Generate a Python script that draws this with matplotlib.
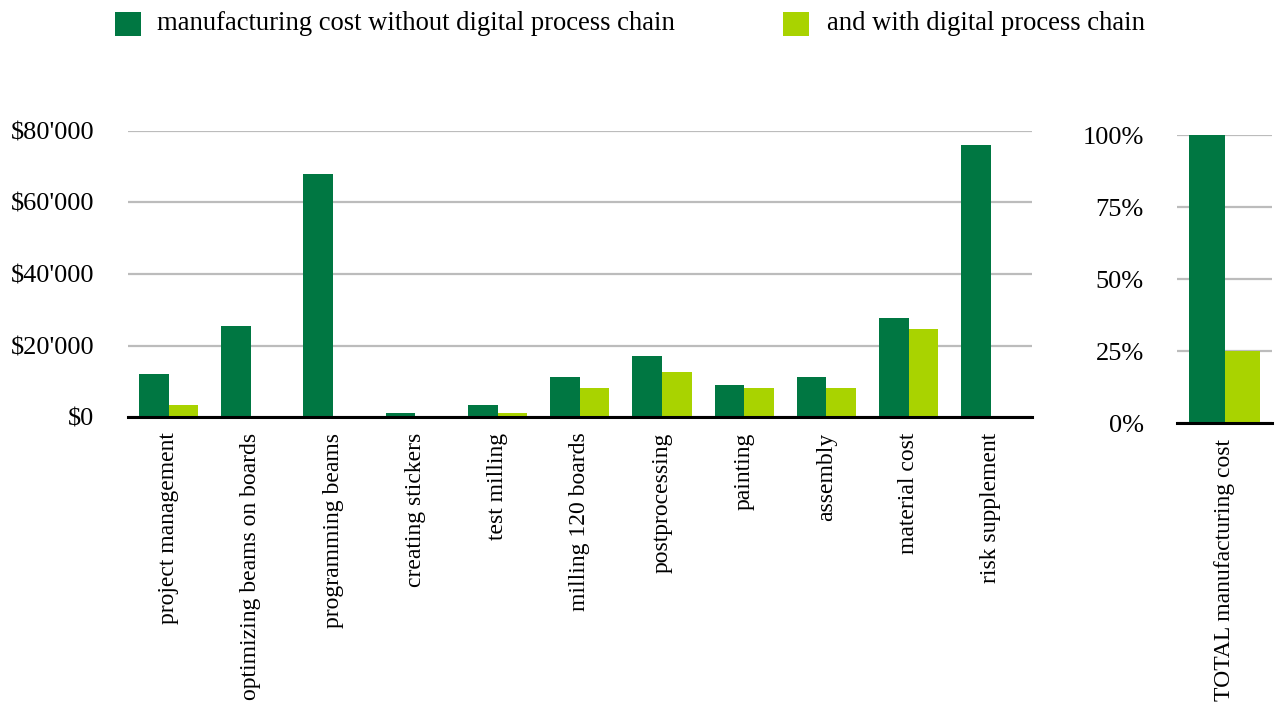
import matplotlib
matplotlib.use("Agg")
import matplotlib.pyplot as plt
from matplotlib.patches import Rectangle
from matplotlib.ticker import FuncFormatter
import numpy as np

categories = ["project management", "optimizing beams on boards", "programming beams",
              "creating stickers", "test milling", "milling 120 boards", "postprocessing",
              "painting", "assembly", "material cost", "risk supplement"]
without_dpc = [12200, 25500, 67800, 1100, 3300, 11300, 17100, 9000, 11300, 27700, 76100]
with_dpc = [3300, 0, 0, 0, 1100, 8200, 12700, 8200, 8200, 24700, 0]

total_label = ["TOTAL manufacturing cost"]
total_without = [100]
total_with = [25]

series_labels = ["manufacturing cost without digital process chain", "and with digital process chain"]
left_ticks = [0, 20000, 40000, 60000, 80000]
right_ticks = [0, 25, 50, 75, 100]

DARK = "#007742"
LIGHT = "#A9D300"
GRID = "#BCBCBC"

plt.rcParams['font.family'] = ['Liberation Serif', 'DejaVu Serif']

W, H = 1275, 705
fig = plt.figure(figsize=(W / 100, H / 100), dpi=100)

def fx(px):
    return px / W

def fy(py):
    return 1 - py / H

ax = fig.add_axes([fx(127.5), fy(417.3), fx(1032 - 127.5), (417.3 - 130.7) / H])
ax2 = fig.add_axes([fx(1177), fy(423.3), fx(1272 - 1177), (423.3 - 135.3) / H])

x = np.arange(len(categories))
bw = 0.36
ax.bar(x - bw / 2, without_dpc, bw, color=DARK, zorder=3)
ax.bar(x + bw / 2, with_dpc, bw, color=LIGHT, zorder=3)
ax.set_xlim(-0.5, len(categories) - 0.5)
ax.set_ylim(0, 80000)
ax.set_yticks(left_ticks)
ax.yaxis.set_major_formatter(FuncFormatter(lambda v, p: "$0" if v == 0 else "${:,.0f}".format(v).replace(",", "'")))
ax.set_xticks(x)
ax.set_xticklabels(categories, rotation=90, fontsize=17)

bw2 = 0.37
x2 = np.arange(len(total_label))
ax2.bar(x2 - bw2 / 2, total_without, bw2, color=DARK, zorder=3)
ax2.bar(x2 + bw2 / 2, total_with, bw2, color=LIGHT, zorder=3)
ax2.set_xlim(-0.5, 0.5)
ax2.set_ylim(0, 100)
ax2.set_yticks(right_ticks)
ax2.yaxis.set_major_formatter(FuncFormatter(lambda v, p: "{:.0f}%".format(v)))
ax2.set_xticks(x2)
ax2.set_xticklabels(total_label, rotation=90, fontsize=17)

for a in (ax, ax2):
    for s in ("top", "right", "left"):
        a.spines[s].set_visible(False)
    a.spines["bottom"].set_color("black")
    a.spines["bottom"].set_linewidth(2.2)
    a.spines["bottom"].set_zorder(4)
    a.yaxis.grid(True, color=GRID, linewidth=1.6, zorder=0)
    a.set_axisbelow(True)
    a.tick_params(axis="y", length=0, pad=24, labelsize=19)
    a.tick_params(axis="x", length=0, pad=11)

# legend
legend_items = [(115, 157, DARK, series_labels[0]), (783, 827, LIGHT, series_labels[1])]
for sx, tx, col, lab in legend_items:
    fig.add_artist(Rectangle((fx(sx), fy(36)), fx(26), 24 / H, transform=fig.transFigure,
                             color=col, lw=0))
    fig.text(fx(tx), fy(24), lab, fontsize=19.2, va="center", ha="left")

fig.savefig("out.png", dpi=100)
